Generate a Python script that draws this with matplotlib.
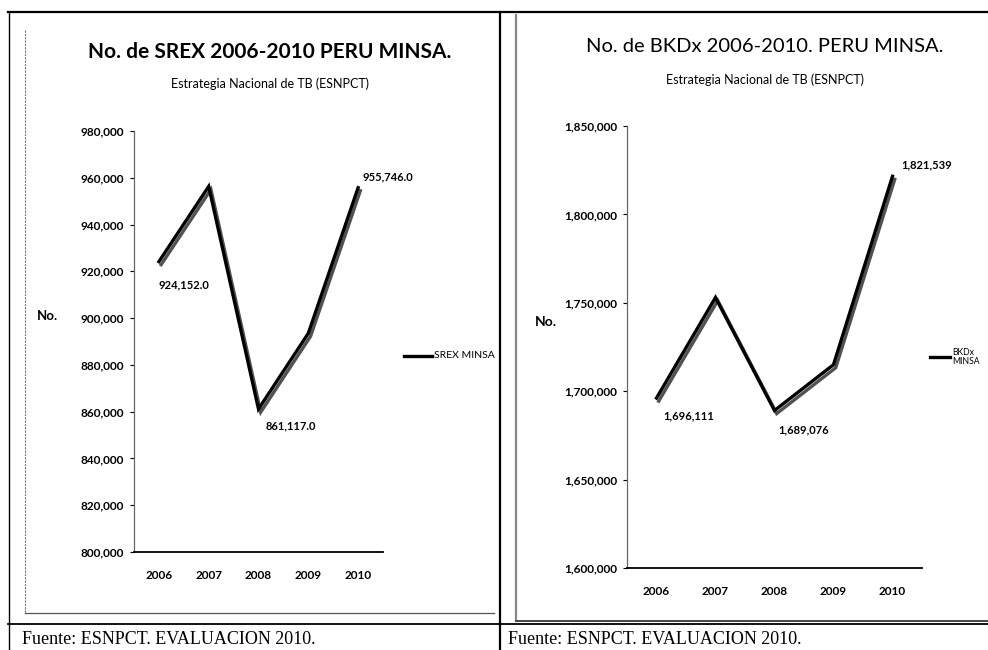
import matplotlib
matplotlib.use("Agg")
import matplotlib.pyplot as plt
from matplotlib.lines import Line2D
from matplotlib.ticker import FuncFormatter
import matplotlib.patheffects as pe

years = ["2006", "2007", "2008", "2009", "2010"]
srex = [924152.0, 956300.0, 861117.0, 893500.0, 955746.0]
bkdx = [1696111, 1753000, 1689076, 1715000, 1821539]
srex_ticks = [800000, 820000, 840000, 860000, 880000, 900000, 920000, 940000, 960000, 980000]
bkdx_ticks = [1600000, 1650000, 1700000, 1750000, 1800000, 1850000]
srex_labeled = {0: "924,152.0", 2: "861,117.0", 4: "955,746.0"}
bkdx_labeled = {0: "1,696,111", 2: "1,689,076", 4: "1,821,539"}

W, H = 988, 650
fig = plt.figure(figsize=(W / 100, H / 100), dpi=100)
plt.rcParams['font.family'] = ['Lato', 'DejaVu Sans']

def fx(px):
    return px / W

def fy(py):
    return 1 - py / H

def hline(y, x0, x1, **kw):
    fig.add_artist(Line2D([fx(x0), fx(x1)], [fy(y), fy(y)], transform=fig.transFigure, **kw))

def vline(x, y0, y1, **kw):
    fig.add_artist(Line2D([fx(x), fx(x)], [fy(y0), fy(y1)], transform=fig.transFigure, **kw))

# table frame
hline(12, 8, 988, color="black", lw=1.6)
vline(9, 12, 650, color="black", lw=1.0)
vline(500, 12, 650, color="black", lw=1.6)
hline(624, 8, 988, color="black", lw=1.3)
# chart frames
vline(25, 30, 613, color="#777777", lw=0.8, ls=(0, (2, 1)))
hline(613, 25, 494, color="#555555", lw=0.9)
vline(516, 15, 621, color="#888888", lw=1.6)
hline(621, 516, 988, color="#444444", lw=1.4)

def make_axes(rect_px, vals, ticks, labels, lab_offsets, fmt):
    l, t, r, b = rect_px
    ax = fig.add_axes([fx(l), fy(b), fx(r) - fx(l), fy(t) - fy(b)])
    x = list(range(len(years)))
    ax.plot(x, vals, color="black", lw=2.4, solid_joinstyle="miter",
            path_effects=[pe.SimpleLineShadow(offset=(1.6, -2.2), shadow_color="#333333", alpha=0.85),
                          pe.Normal()])
    ax.set_xlim(-0.5, len(years) - 0.5)
    ax.set_ylim(ticks[0], ticks[-1])
    ax.set_yticks(ticks)
    ax.yaxis.set_major_formatter(FuncFormatter(fmt))
    ax.set_xticks(x)
    ax.set_xticklabels(years)
    for s in ["top", "right"]:
        ax.spines[s].set_visible(False)
    ax.spines["left"].set_color("#666666")
    ax.spines["left"].set_linewidth(0.9)
    ax.spines["bottom"].set_color("black")
    ax.spines["bottom"].set_linewidth(1.3)
    ax.tick_params(axis="y", direction="out", length=3, width=0.8, labelsize=8.5, pad=4)
    ax.tick_params(axis="x", length=0, labelsize=8.5, pad=13)
    for lab in ax.get_yticklabels() + ax.get_xticklabels():
        lab.set_fontweight("bold")
    ax.patch.set_alpha(0)
    for i, text in labels.items():
        dx, dy, ha = lab_offsets[i]
        ax.annotate(text, (i, vals[i]), xytext=(dx, dy), textcoords="offset points",
                    ha=ha, va="center", fontsize=8, fontweight="bold")
    return ax

ax1 = make_axes((134, 131, 383, 552), srex, srex_ticks, srex_labeled,
                {0: (0, -17, "left"), 2: (5, -12, "left"), 4: (3, 8, "left")},
                lambda v, p: f"{int(v):,}")
ax2 = make_axes((627, 126, 922, 568), bkdx, bkdx_ticks, bkdx_labeled,
                {0: (5, -13, "left"), 2: (3, -14, "left"), 4: (6, 8, "left")},
                lambda v, p: f"{int(v):,}")

# titles
fig.text(fx(270), fy(52), "No. de SREX 2006-2010 PERU MINSA.", ha="center", va="center",
         fontsize=15, fontweight="bold")
fig.text(fx(270), fy(84), "Estrategia Nacional de TB (ESNPCT)", ha="center", va="center",
         fontsize=9)
fig.text(fx(765), fy(47), "No. de BKDx 2006-2010. PERU MINSA.", ha="center", va="center",
         fontsize=14.5)
fig.text(fx(765), fy(80), "Estrategia Nacional de TB (ESNPCT)", ha="center", va="center",
         fontsize=9)

# y labels
fig.text(fx(47), fy(316), "No.", ha="center", va="center", fontsize=9.5, fontweight="bold")
fig.text(fx(546), fy(322), "No.", ha="center", va="center", fontsize=10, fontweight="bold")

# legends
fig.add_artist(Line2D([fx(404), fx(432)], [fy(356), fy(356)], transform=fig.transFigure,
                      color="black", lw=2.4))
fig.text(fx(434), fy(356), "SREX MINSA", ha="left", va="center", fontsize=7.5)
fig.add_artist(Line2D([fx(930), fx(950)], [fy(357), fy(357)], transform=fig.transFigure,
                      color="black", lw=2.4))
fig.text(fx(952), fy(357), "BKDx\nMINSA", ha="left", va="center", fontsize=6.2,
         linespacing=1.0)

# source
fig.text(fx(22), fy(639), "Fuente: ESNPCT. EVALUACION 2010.", ha="left", va="center",
         fontsize=13, family="Liberation Serif")
fig.text(fx(508), fy(639), "Fuente: ESNPCT. EVALUACION 2010.", ha="left", va="center",
         fontsize=13, family="Liberation Serif")

fig.savefig("out.png", dpi=100)
